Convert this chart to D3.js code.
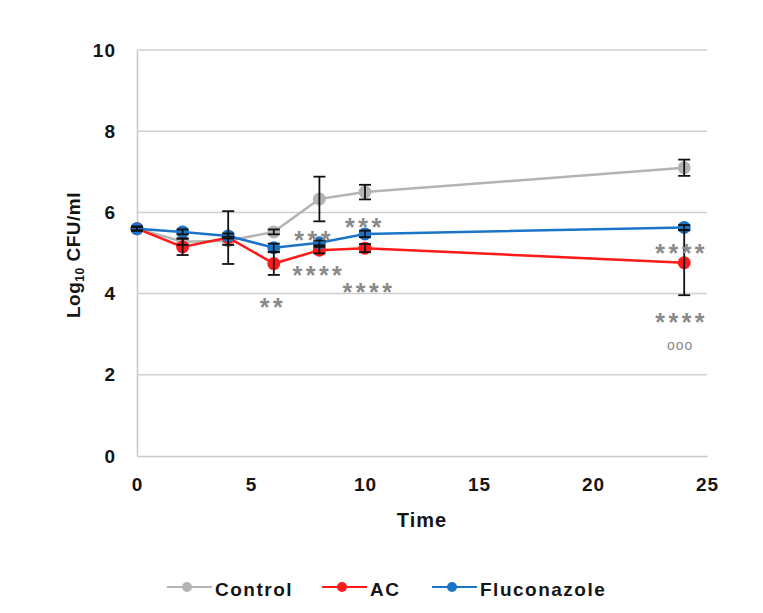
<!DOCTYPE html>
<html>
<head>
<meta charset="utf-8">
<script src="https://cdn.jsdelivr.net/npm/d3@7"></script>
<style>
  body { margin: 0; background: #fff; }
  text { font-family: "Liberation Sans", Arial, sans-serif; }
</style>
</head>
<body>
<div class="mainDiv"></div>
<script>
// data
const times = [0, 2, 4, 6, 8, 10, 24];
const controlVals = [5.6, 5.28, 5.3, 5.52, 6.33, 6.5, 7.1];
const controlErr  = [0.05, 0.08, 0.1, 0.06, 0.55, 0.18, 0.2];
const acVals = [5.6, 5.15, 5.38, 4.74, 5.07, 5.12, 4.76];
const acErr  = [0.05, 0.2, 0.65, 0.28, 0.08, 0.1, 0.8];
const flucVals = [5.6, 5.52, 5.42, 5.13, 5.25, 5.47, 5.63];
const flucErr  = [0.04, 0.06, 0.06, 0.1, 0.06, 0.08, 0.06];
const seriesNames = ["Control", "AC", "Fluconazole"];
const colors = ["#b4b4b4", "#ff1a1a", "#1c74c9"];
const xTicks = [0, 5, 10, 15, 20, 25];
const yTicks = [0, 2, 4, 6, 8, 10];
// significance marks: [time, value, label]
const marks = [
  [5.88, 3.84, "**"], [7.68, 5.49, "***"], [7.89, 4.63, "****"], [9.91, 5.81, "***"],
  [10.09, 4.21, "****"], [23.8, 5.15, "****"], [23.8, 3.47, "****"], [23.8, 2.74, "ooo"]
];

const svg = d3.select(".mainDiv").append("svg")
  .attr("width", 763).attr("height", 613);

const x = d3.scaleLinear().domain([0, 25]).range([137, 707]);
const y = d3.scaleLinear().domain([0, 10]).range([456, 50]);

// gridlines
svg.append("g").selectAll("line")
  .data(yTicks.filter(d => d > 0))
  .join("line")
  .attr("x1", x(0)).attr("x2", x(25))
  .attr("y1", d => y(d)).attr("y2", d => y(d))
  .attr("stroke", "#cfcfcf").attr("stroke-width", 1.5);

// axes
const xAxis = svg.append("g").attr("transform", `translate(0,${y(0)})`)
  .call(d3.axisBottom(x).tickValues(xTicks).tickSize(0).tickPadding(22));
const yAxis = svg.append("g").attr("transform", `translate(${x(0)},0)`)
  .call(d3.axisLeft(y).tickValues(yTicks).tickSize(0).tickPadding(21));
[xAxis, yAxis].forEach(a => {
  a.select(".domain").attr("stroke", "#c8c8c8").attr("stroke-width", 1.5);
  a.selectAll("text").attr("font-size", 19).attr("font-weight", "bold")
    .attr("letter-spacing", 1)
    .attr("fill", "#151515").style("font-family", "Liberation Sans, Arial, sans-serif");
});

svg.append("text")
  .attr("x", x(12.5)).attr("y", 527)
  .attr("text-anchor", "middle").attr("font-size", 20).attr("font-weight", "bold")
  .attr("letter-spacing", 1).attr("fill", "#151515")
  .text("Time");

const yl = svg.append("text")
  .attr("transform", `translate(80,${y(5) + 2}) rotate(-90)`)
  .attr("text-anchor", "middle").attr("font-size", 19).attr("font-weight", "bold")
  .attr("letter-spacing", 0.5).attr("fill", "#151515");
yl.append("tspan").text("Log");
yl.append("tspan").attr("font-size", 12).attr("dy", 4).text("10");
yl.append("tspan").attr("dy", -4).text(" CFU/ml");

const series = [
  { vals: controlVals, err: controlErr },
  { vals: acVals, err: acErr },
  { vals: flucVals, err: flucErr }
];

const line = d3.line().x(d => x(d[0])).y(d => y(d[1]));

series.forEach((s, i) => {
  const pts = times.map((t, j) => [t, s.vals[j]]);
  svg.append("path").datum(pts)
    .attr("d", line).attr("fill", "none")
    .attr("stroke", colors[i]).attr("stroke-width", 2.5);
  svg.append("g").selectAll("circle").data(pts).join("circle")
    .attr("cx", d => x(d[0])).attr("cy", d => y(d[1])).attr("r", 6.5)
    .attr("fill", colors[i]);
});

// error bars
series.forEach(s => {
  const eb = svg.append("g").attr("stroke", "#111").attr("stroke-width", 1.8);
  times.forEach((t, j) => {
    const lo = y(s.vals[j] - s.err[j]), hi = y(s.vals[j] + s.err[j]);
    eb.append("line").attr("x1", x(t)).attr("x2", x(t)).attr("y1", lo).attr("y2", hi);
    eb.append("line").attr("x1", x(t) - 6).attr("x2", x(t) + 6).attr("y1", lo).attr("y2", lo);
    eb.append("line").attr("x1", x(t) - 6).attr("x2", x(t) + 6).attr("y1", hi).attr("y2", hi);
  });
});

// significance marks
svg.append("g").selectAll("text").data(marks).join("text")
  .attr("x", d => x(d[0]) + (d[2] === "ooo" ? 0.5 : 2))
  .attr("y", d => y(d[1]))
  .attr("dy", d => d[2] === "ooo" ? "0.35em" : "0.62em")
  .attr("text-anchor", "middle")
  .attr("font-size", d => d[2] === "ooo" ? 14 : 25)
  .attr("font-weight", d => d[2] === "ooo" ? "normal" : "bold")
  .attr("letter-spacing", d => d[2] === "ooo" ? 1 : 3.5)
  .attr("fill", "#8a8a8a")
  .text(d => d[2]);

// legend
const lg = svg.append("g").attr("transform", "translate(0,587)");
const legX = [167, 322, 432];
seriesNames.forEach((n, i) => {
  lg.append("line").attr("x1", legX[i]).attr("x2", legX[i] + 45)
    .attr("y1", 0).attr("y2", 0).attr("stroke", colors[i]).attr("stroke-width", 2);
  lg.append("circle").attr("cx", legX[i] + 20).attr("cy", 0).attr("r", 5).attr("fill", colors[i]);
  lg.append("text").attr("x", legX[i] + 48).attr("y", 9)
    .attr("font-size", 19).attr("font-weight", "bold").attr("letter-spacing", 1.5)
    .attr("fill", "#151515").text(n);
});
</script>
</body>
</html>
